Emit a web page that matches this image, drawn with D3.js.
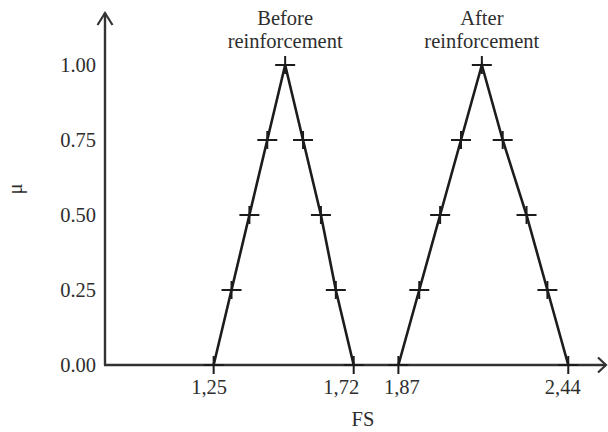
<!DOCTYPE html>
<html>
<head>
<meta charset="utf-8">
<script src="https://cdn.jsdelivr.net/npm/d3@7"></script>
<style>
  html, body { margin: 0; padding: 0; background: #fff; }
  svg { display: block; }
</style>
</head>
<body>
<script>
// ---- data ----
const muLevels = [0, 0.25, 0.5, 0.75, 1, 0.75, 0.5, 0.25, 0];
const fsBefore = [1.25, 1.31, 1.37, 1.43, 1.49, 1.55, 1.61, 1.66, 1.72];
const fsAfter  = [1.87, 1.94, 2.01, 2.08, 2.15, 2.22, 2.30, 2.37, 2.44];
const seriesTitles = [["Before", "reinforcement"], ["After", "reinforcement"]];
const xTickValues = [1.25, 1.72, 1.87, 2.44];
const xTickLabels = ["1,25", "1,72", "1,87", "2,44"];
const yTickValues = [0, 0.25, 0.5, 0.75, 1];
const yTickLabels = ["0.00", "0.25", "0.50", "0.75", "1.00"];
const xTitle = "FS";
const yTitle = "μ";

// ---- layout ----
const W = 608, H = 432;
const FONT = "Liberation Serif";
const originX = 105, originY = 365;
const x = d3.scaleLinear().domain([1.82 - 278.5 / 298, 1.82 + 223.5 / 298]).range([originX, 607]);
const y = d3.scaleLinear().domain([0, 1]).range([originY, 65]);

const svg = d3.select("body").append("svg").attr("width", W).attr("height", H);
const ink = "#1c1c1c";
const axisInk = "#333";
const textInk = "#2e2e2e";

function styleText(sel) {
  sel.style("font-family", FONT).style("font-size", "20.5px").style("fill", textInk);
}

// axes lines with open arrows
svg.append("line").attr("x1", originX).attr("y1", originY).attr("x2", originX).attr("y2", 13)
  .attr("stroke", axisInk).attr("stroke-width", 2.4);
svg.append("path").attr("d", `M${originX - 7.5},${25} L${originX},${13} L${originX + 7.5},${25}`)
  .attr("fill", "none").attr("stroke", axisInk).attr("stroke-width", 2.2);
svg.append("line").attr("x1", originX - 1).attr("y1", originY).attr("x2", 606).attr("y2", originY)
  .attr("stroke", axisInk).attr("stroke-width", 2.4);
svg.append("path").attr("d", `M${598},${originY - 7.5} L${606},${originY} L${598},${originY + 7.5}`)
  .attr("fill", "none").attr("stroke", axisInk).attr("stroke-width", 2.2);

// y axis labels
const yAxis = d3.axisLeft(y).tickValues(yTickValues).tickSize(0).tickPadding(9)
  .tickFormat((d, i) => yTickLabels[i]);
const gy = svg.append("g").attr("transform", `translate(${originX},0)`).call(yAxis);
gy.select(".domain").remove();
gy.selectAll("text").call(styleText);

// x axis labels
const xAxis = d3.axisBottom(x).tickValues(xTickValues).tickSize(0).tickPadding(14)
  .tickFormat((d, i) => xTickLabels[i]);
const gx = svg.append("g").attr("transform", `translate(0,${originY})`).call(xAxis);
gx.select(".domain").remove();
const labelShift = [-5, -13, 3, -6];
gx.selectAll("text").call(styleText).attr("dx", (d, i) => labelShift[i]);

// axis titles
svg.append("text").attr("x", 363).attr("y", 426).attr("text-anchor", "middle")
  .call(styleText).text(xTitle);
svg.append("text").attr("transform", "translate(22,189) rotate(-90)").attr("text-anchor", "middle")
  .call(styleText).text(yTitle);

// triangles
const line = d3.line().x(d => x(d[0])).y(d => y(d[1]));
[fsBefore, fsAfter].forEach((fs, k) => {
  const pts = fs.map((v, i) => [v, muLevels[i]]);
  svg.append("path").attr("d", line(pts)).attr("fill", "none")
    .attr("stroke", ink).attr("stroke-width", 2.6).attr("stroke-linejoin", "miter");
  const g = svg.append("g");
  pts.forEach(p => {
    const cx = x(p[0]), cy = y(p[1]);
    g.append("line").attr("x1", cx - 10).attr("x2", cx + 10).attr("y1", cy).attr("y2", cy)
      .attr("stroke", ink).attr("stroke-width", 2);
    g.append("line").attr("x1", cx).attr("x2", cx).attr("y1", cy - 9).attr("y2", cy + 9)
      .attr("stroke", ink).attr("stroke-width", 2);
  });
  const peak = pts[muLevels.indexOf(1)];
  const t = svg.append("text").attr("text-anchor", "middle").call(styleText);
  seriesTitles[k].forEach((s, j) => {
    t.append("tspan").attr("x", x(peak[0])).attr("y", 25 + j * 23).text(s);
  });
});
</script>
</body>
</html>
